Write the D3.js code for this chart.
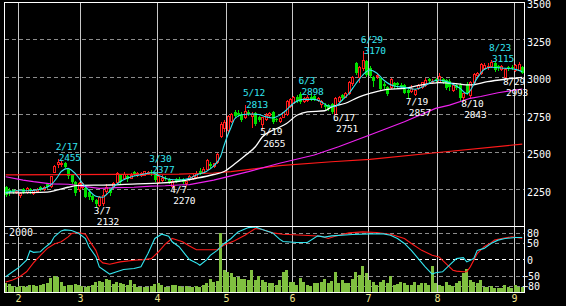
<!DOCTYPE html>
<html>
<head>
<meta charset="utf-8">
<script src="https://cdn.jsdelivr.net/npm/d3@7"></script>
<style>
  html, body { margin: 0; padding: 0; background: #000; }
  svg { display: block; }
  text { font-family: 'DejaVu Sans Mono', monospace; font-size: 10px; }
  .mark { font-size: 9.5px; letter-spacing: -0.2px; }
</style>
</head>
<body>
<div id="chart"></div>
<script>
// Trading days on the chart
const days = [
  '1/26','1/27','1/28','1/31',
  '2/1','2/2','2/3','2/4','2/7','2/8','2/9','2/10','2/14','2/15','2/16','2/17','2/18','2/21','2/22','2/24','2/25','2/28',
  '3/1','3/2','3/3','3/4','3/7','3/8','3/9','3/10','3/11','3/14','3/15','3/16','3/17','3/18','3/22','3/23','3/24','3/25','3/28','3/29','3/30','3/31',
  '4/1','4/4','4/5','4/6','4/7','4/8','4/11','4/12','4/13','4/14','4/15','4/18','4/19','4/20','4/21','4/22','4/25','4/26','4/27','4/28',
  '5/2','5/6','5/9','5/10','5/11','5/12','5/13','5/16','5/17','5/18','5/19','5/20','5/23','5/24','5/25','5/26','5/27','5/30','5/31',
  '6/1','6/2','6/3','6/6','6/7','6/8','6/9','6/10','6/13','6/14','6/15','6/16','6/17','6/20','6/21','6/22','6/23','6/24','6/27','6/28','6/29','6/30',
  '7/1','7/4','7/5','7/6','7/7','7/8','7/11','7/12','7/13','7/14','7/15','7/19','7/20','7/21','7/22','7/25','7/26','7/27','7/28','7/29',
  '8/1','8/2','8/3','8/4','8/5','8/8','8/9','8/10','8/12','8/15','8/16','8/17','8/18','8/19','8/22','8/23','8/24','8/25','8/26','8/29','8/30','8/31',
  '9/1','9/2','9/5'
];

const open = [
  2268,2250,2245,2236,2215,2252,2235,2255,2225,2238, 2265,2252,2285,2275,2369,2420,2418,2425,2385,2347,
  2300,2255,2268,2258,2235,2210,2180,2150,2160,2240, 2258,2268,2300,2347,2330,2340,2330,2365,2345,2348,
  2348,2360,2370,2357,2300,2315,2330,2322,2275,2322, 2320,2318,2290,2320,2330,2335,2373,2362,2385,2420,
  2405,2435,2605,2660,2645,2705,2768,2760,2755,2735, 2770,2740,2758,2735,2685,2720,2748,2768,2718,2710,
  2735,2755,2805,2830,2870,2885,2840,2848,2870,2875, 2845,2820,2815,2815,2820,2755,2840,2880,2870,2890,
  2960,3090,3000,3060,3110,3060,3000,3005,2990,2955, 2935,2935,2960,2958,2950,2950,2915,2905,2885,2925,
  2935,2945,2985,2965,2985,2970,2985,2980,2975,2915, 2945,2950,2870,2955,2880,2965,3015,3025,3060,3065,
  3070,3095,3070,3055,3000,3065,3068,3045,3050,3065
];
const high = [
  2272,2262,2255,2248,2232,2258,2268,2262,2250,2262, 2272,2272,2290,2340,2412,2455,2440,2432,2395,2355,
  2305,2300,2300,2265,2240,2215,2190,2205,2245,2285, 2262,2300,2370,2355,2365,2345,2360,2375,2365,2368,
  2375,2372,2377,2362,2352,2345,2338,2330,2315,2330, 2335,2325,2310,2348,2352,2372,2395,2398,2450,2435,
  2430,2492,2700,2715,2750,2762,2778,2780,2765,2813, 2780,2765,2765,2740,2735,2758,2768,2772,2725,2735,
  2770,2848,2862,2872,2880,2898,2868,2880,2885,2882, 2870,2845,2825,2822,2825,2868,2875,2888,2902,2975,
  3010,3100,3075,3170,3115,3075,3010,3030,2995,2965, 2940,2995,2968,2965,2960,2955,2925,2945,2920,2955,
  2970,2990,2995,2985,2992,3028,2995,2985,2985,2950, 2955,2958,2895,2965,2975,3030,3035,3095,3090,3090,
  3115,3100,3078,3078,3062,3075,3080,3085,3100,3070
];
const low = [
  2208,2215,2228,2228,2198,2225,2230,2230,2220,2232, 2245,2248,2262,2270,2365,2400,2405,2398,2330,2295,
  2215,2240,2262,2198,2190,2175,2132,2140,2150,2230, 2215,2262,2295,2295,2325,2310,2325,2348,2340,2342,
  2345,2355,2350,2308,2295,2310,2312,2295,2270,2298, 2305,2290,2280,2312,2322,2330,2352,2358,2380,2400,
  2400,2430,2600,2640,2635,2700,2730,2740,2708,2728, 2748,2670,2682,2705,2655,2715,2740,2695,2705,2702,
  2730,2748,2800,2825,2835,2830,2835,2842,2845,2848, 2838,2800,2790,2780,2762,2751,2832,2850,2865,2885,
  2950,3020,2970,3050,3005,3000,2940,2995,2912,2930, 2880,2930,2930,2935,2925,2890,2857,2900,2878,2918,
  2930,2940,2968,2958,2965,2965,2958,2920,2915,2910, 2918,2850,2843,2885,2870,2958,3008,3020,3055,3055,
  3065,3038,3050,3048,2993,3050,3052,3040,3045,3025
];
const close = [
  2213,2238,2236,2240,2228,2232,2262,2240,2245,2255, 2250,2265,2268,2337,2407,2433,2430,2402,2337,2302,
  2225,2290,2290,2202,2200,2180,2155,2200,2215,2265, 2225,2290,2358,2302,2355,2318,2350,2355,2357,2360,
  2372,2370,2360,2313,2340,2330,2318,2302,2310,2305, 2310,2302,2305,2340,2342,2360,2360,2390,2447,2410,
  2425,2487,2690,2700,2740,2755,2738,2750,2715,2775, 2755,2752,2688,2715,2730,2750,2758,2700,2712,2728,
  2765,2840,2855,2868,2840,2835,2860,2868,2850,2855, 2862,2840,2800,2790,2768,2860,2865,2862,2895,2965,
  3000,3025,3065,3115,3015,3010,2975,3015,2920,2938, 2885,2985,2940,2945,2935,2895,2895,2925,2915,2950,
  2965,2980,2975,2975,2975,3005,2965,2925,2935,2945, 2925,2860,2890,2895,2965,3020,3025,3085,3080,3075,
  3100,3045,3060,3070,3055,3058,3060,3080,3085,3030
];
const volume = [
  330,290,230,200,210,220,180,250,250,230, 260,290,330,480,560,540,370,220,260,240,
  300,240,230,200,230,250,360,400,370,470, 440,300,370,310,290,260,440,280,200,180,
  190,200,230,300,330,240,180,200,250,270, 230,200,230,200,180,220,200,260,310,470,
  370,400,2020,760,700,650,540,540,450,450, 420,760,425,560,425,370,310,310,256,425,
  700,760,370,370,260,480,370,256,222,312, 334,367,447,312,402,704,312,425,334,312,
  447,704,593,896,650,425,367,256,367,425, 312,559,256,290,367,334,256,256,367,256,
  312,312,256,896,312,256,222,367,256,222, 312,402,650,785,425,367,312,425,178,200,
  222,144,144,144,256,200,144,256,200,200
];

// Moving averages, read at these day indexes
const maShortIdx = [0,3,7,11,13,15,16,18,19,21,22,24,26,28,29,31,33,35,37,40,42,44,47,50,53,55,58,60,62,63,
  64,65,66,68,71,73,75,77,79,81,83,86,89,91,93,95,97,99,101,103,105,107,109,112,115,118,120,122,125,128,
  131,133,136,138,140,144,147,149];
const maShort = [2229,2242,2242,2258,2280,2335,2370,2391,2378,2330,2295,2245,2205,2198,2215,2265,2302,2325,2340,2353,
  2362,2345,2318,2313,2325,2347,2372,2407,2472,2545,2610,2665,2720,2748,2753,2750,2735,2727,2745,2780,
  2825,2851,2851,2835,2807,2805,2845,2890,2955,3013,3047,3027,2980,2940,2931,2918,2931,2958,2980,2962,
  2925,2888,2993,3050,3065,3058,3051,3035];
const maMidIdx = [0,12,15,18,21,30,38,44,50,55,60,63,66,69,72,74,78,81,84,87,92,94,98,102,105,110,115,120,125,129,134,139,144,149];
const maMid = [2227,2233,2247,2265,2277,2280,2288,2292,2305,2325,2350,2370,2420,2475,2535,2600,2655,2690,2745,2768,
  2775,2800,2825,2868,2890,2918,2925,2947,2962,2958,2947,2969,2985,2998];
const maLongIdx = [0,5,8,13,18,22,27,32,37,42,46,50,53,60,70,79,89,96,105,115,124,128,134,137,142,149];
const maLong = [2335,2313,2302,2287,2285,2273,2258,2262,2265,2273,2275,2280,2282,2313,2369,2425,2480,2535,2613,2702,2791,2813,2858,2870,2895,2920];
const ma200Idx = [0,50,60,65,79,94,105,124,149];
const ma200 = [2347,2353,2360,2369,2409,2435,2451,2495,2553];

// Oscillators (lower panel), read at these day indexes
const rciShortIdx = [0,2,4,6,7,8,10,11,13,14,16,17,19,21,23,24,26,27,29,30,32,34,37,39,41,43,45,47,48,50,
  52,53,55,56,58,59,61,63,65,67,70,72,74,77,79,80,84,87,90,92,94,100,105,109,111,113,115,117,119,121,
  123,124,126,128,130,132,133,134,135,136,138,140,142,144,147,149];
const rciShort = [-52,-37,-22,-2,27,22,24,34,51,69,87,90,88,80,64,39,9,-22,-37,-44,-37,-30,-27,-22,18,64,77,71,54,39,
  13,0,-10,-17,0,13,28,49,64,84,97,99,91,81,62,55,52,52,72,68,72,76,78,78,74,64,49,28,3,-22,
  -44,-40,-37,-17,3,6,-7,-2,3,28,34,49,59,64,67,67];
const rciLongIdx = [0,2,4,6,8,10,12,14,16,18,19,21,23,24,26,27,28,30,33,37,40,42,44,46,48,49,51,53,55,58,
  61,63,66,69,72,74,77,80,86,91,93,95,99,103,107,111,115,117,120,123,125,127,129,130,132,133,134,136,138,140,
  141,143,146,149];
const rciLong = [-68,-62,-52,-37,-10,13,34,47,54,69,79,82,77,59,28,0,-10,-14,-7,-2,0,3,23,47,64,61,54,41,30,30,
  30,44,57,74,94,91,81,77,74,71,64,71,81,84,82,77,64,49,28,13,8,-12,-32,-35,-37,-37,-22,18,39,51,
  59,64,69,64];

// Marked highs / lows
const highMarks = ['2/17','3/30','5/12','6/3','6/29','8/23'];
const lowMarks = ['3/7','4/7','5/19','6/17','7/19','8/10','8/29'];

// Axis ticks
const monthStarts = ['2/1','3/1','4/1','5/2','6/1','7/1','8/1','9/1'];
const priceGrid = [2250, 2500, 2750, 3000, 3250];
const priceTicks = [2250, 2500, 2750, 3000, 3250, 3500];
const oscTicks = [80, 50, 0, -50, -80];
const volumeLabel = 2000;

const RED = '#ff1a1a', GREEN = '#00e000', CYAN = '#33e6f0', MAGENTA = '#ee22ee',
  WHITE = '#ffffff', VOL = '#80c040', GRID = '#8c8c8c', VGRID = '#c8c8c8';

const svg = d3.select('#chart').append('svg')
  .attr('width', 566)
  .attr('height', 306)
  .style('background', '#000');

// Scales
const x = d3.scaleBand().domain(days).range([4, 524]).paddingInner(0.15).paddingOuter(0.075);
const xc = d => x(d) + x.bandwidth() / 2;
const xGrid = d => Math.round(x(d) - x.step() * 0.075) + 0.5;
const yP = d3.scaleLinear().domain([2000, 3500]).range([227, 2]);
const yOsc = d3.scaleLinear().domain([-100, 100]).range([292.6, 226.6]);
const yVol = d3.scaleLinear().domain([0, 2000]).range([292.6, 233.2]);

// Horizontal grid, main panel
svg.append('g').selectAll('line').data(priceGrid).join('line')
  .attr('x1', 5).attr('x2', 524)
  .attr('y1', d => Math.floor(yP(d)) + 0.5).attr('y2', d => Math.floor(yP(d)) + 0.5)
  .attr('stroke', GRID).attr('stroke-dasharray', '4,3');

// Horizontal grid, lower panel
svg.append('g').selectAll('line').data(oscTicks).join('line')
  .attr('x1', 5).attr('x2', 524)
  .attr('y1', d => Math.floor(yOsc(d)) + 0.5).attr('y2', d => Math.floor(yOsc(d)) + 0.5)
  .attr('stroke', d => d === 0 ? WHITE : GRID).attr('stroke-dasharray', '4,3');

// Month lines through both panels
svg.append('g').selectAll('line').data(monthStarts).join('line')
  .attr('x1', xGrid).attr('x2', xGrid)
  .attr('y1', 3).attr('y2', 292)
  .attr('stroke', VGRID);

// Volume bars
svg.append('g').selectAll('rect').data(days).join('rect')
  .attr('x', d => Math.round(xc(d) - 1.5))
  .attr('width', 3)
  .attr('y', (d, i) => Math.round(yVol(volume[i])))
  .attr('height', (d, i) => Math.max(0, 292 - Math.round(yVol(volume[i]))))
  .attr('fill', VOL)
  .attr('shape-rendering', 'crispEdges');

// Oscillator lines
const oscLine = d3.line().x(p => xc(days[p[0]])).y(p => yOsc(p[1]));
[[rciLongIdx, rciLong, RED], [rciShortIdx, rciShort, CYAN]].forEach(([idx, vals, color]) => {
  svg.append('path')
    .datum(idx.map((i, k) => [i, vals[k]]))
    .attr('d', oscLine)
    .attr('fill', 'none')
    .attr('stroke', color)
    .attr('stroke-width', 1.1);
});

// Volume scale label
svg.append('rect').attr('x', 8).attr('y', 228).attr('width', 25).attr('height', 9).attr('fill', '#000');
svg.append('text').attr('x', 9).attr('y', 235.5).attr('fill', WHITE).text(volumeLabel);

// Candles
const candles = svg.append('g').attr('shape-rendering', 'crispEdges');
days.forEach((d, i) => {
  const cx = Math.round(xc(d));
  const up = close[i] >= open[i];
  const color = up ? RED : GREEN;
  const top = Math.round(yP(Math.max(open[i], close[i])));
  const bot = Math.round(yP(Math.min(open[i], close[i])));
  candles.append('line')
    .attr('x1', cx + 0.5).attr('x2', cx + 0.5)
    .attr('y1', Math.round(yP(high[i]))).attr('y2', Math.round(yP(low[i])) + 1)
    .attr('stroke', color);
  if (up) {
    candles.append('rect')
      .attr('x', cx - 0.5).attr('y', top + 0.5)
      .attr('width', 2).attr('height', Math.max(bot - top, 1))
      .attr('fill', '#000').attr('stroke', color);
  } else {
    candles.append('rect')
      .attr('x', cx - 1).attr('y', top)
      .attr('width', 3).attr('height', Math.max(bot - top, 1))
      .attr('fill', color);
  }
});

// Moving averages
const maLine = d3.line().x(p => xc(days[p[0]])).y(p => yP(p[1]));
const maSmooth = d3.line().x(p => xc(days[p[0]])).y(p => yP(p[1])).curve(d3.curveMonotoneX);
[
  [ma200Idx, ma200, RED, maLine, 1.2],
  [maLongIdx, maLong, MAGENTA, maLine, 1.2],
  [maMidIdx, maMid, WHITE, maSmooth, 1.3],
  [maShortIdx, maShort, CYAN, maSmooth, 1.1]
].forEach(([idx, vals, color, gen, w]) => {
  svg.append('path')
    .datum(idx.map((i, k) => [i, vals[k]]))
    .attr('d', gen)
    .attr('fill', 'none')
    .attr('stroke', color)
    .attr('stroke-width', w);
});

// High / low marks: date line above price line
const marks = svg.append('g');
function addMark(d, value, yy, color, dyDate, dyPrice) {
  const cx = xc(d);
  marks.append('text').attr('class', 'mark').attr('fill', color)
    .attr('x', cx - 2).attr('y', yy + dyDate).text(d);
  marks.append('text').attr('class', 'mark').attr('fill', color)
    .attr('x', cx + 1).attr('y', yy + dyPrice).text(value);
}
highMarks.forEach(d => {
  const i = days.indexOf(d);
  addMark(d, high[i], yP(high[i]), CYAN, -8.8, 2.5);
});
lowMarks.forEach(d => {
  const i = days.indexOf(d);
  addMark(d, low[i], yP(low[i]), WHITE, 6.5, 17.8);
});

// Panel borders
svg.append('rect').attr('x', 4.5).attr('y', 2.5).attr('width', 520).attr('height', 224)
  .attr('fill', 'none').attr('stroke', WHITE);
svg.append('rect').attr('x', 4.5).attr('y', 226.5).attr('width', 520).attr('height', 66)
  .attr('fill', 'none').attr('stroke', WHITE);

// Price axis
svg.append('g')
  .attr('transform', 'translate(524,0)')
  .call(d3.axisRight(yP).tickValues(priceTicks).tickSize(0).tickPadding(3).tickFormat(d3.format('d')))
  .call(g => g.select('.domain').remove())
  .selectAll('text')
  .attr('fill', WHITE)
  .attr('dy', '0.58em');

// Oscillator axis
svg.append('g')
  .attr('transform', 'translate(524,0)')
  .call(d3.axisRight(yOsc).tickValues(oscTicks).tickSize(0).tickFormat(d3.format('d')))
  .call(g => g.select('.domain').remove())
  .selectAll('text')
  .attr('x', d => d < 0 ? -2 : 3)
  .attr('fill', WHITE)
  .attr('dy', '0.35em');

// Month labels
svg.append('g').selectAll('text').data(monthStarts).join('text')
  .attr('x', xGrid)
  .attr('y', 302)
  .attr('text-anchor', 'middle')
  .attr('fill', '#f0e68c')
  .text(d => d.split('/')[0]);
</script>
</body>
</html>
